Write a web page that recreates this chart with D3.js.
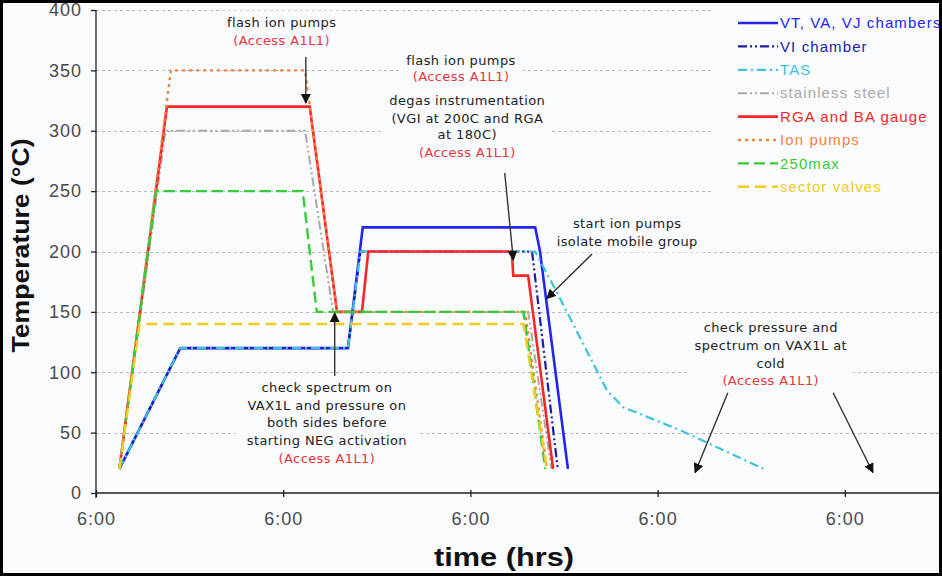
<!DOCTYPE html>
<html>
<head>
<meta charset="utf-8">
<script src="https://cdn.jsdelivr.net/npm/d3@7"></script>
<style>
  html, body { margin: 0; padding: 0; background: #ffffff; }
  svg { display: block; }
</style>
</head>
<body>
<svg id="chart" width="942" height="576"></svg>
<script>
// Bake-out temperature schedule: time in hours from the first 6:00, temperature in °C.
const seriesNames = ["VT, VA, VJ chambers", "VI chamber", "TAS", "stainless steel",
                     "RGA and BA gauge", "Ion pumps", "250max", "sector valves"];

const vtVaVj       = [[3,20],[10.8,120],[32.3,120],[34.2,220],[56.3,220],[56.9,201],[60.5,20]];
const viChamber    = [[3,20],[10.8,120],[32.3,120],[33.9,200],[55.9,200],[59.2,20]];
const tas          = [[3,20],[10.8,120],[32.3,120],[33.9,200],[56.3,200],[59.1,166],[63.3,113],
                      [65.5,85],[67.6,71],[74.9,52],[85.6,20]];
const stainless    = [[3,20],[8.9,300],[26.8,300],[30.4,150],[55.4,150],[58.4,20]];
const rgaBa        = [[3,20],[9.1,320],[27.4,320],[30.9,150],[34.1,150],[34.9,200],[53.3,200],
                      [53.5,180],[55.4,180],[58.6,20]];
const ionPumps     = [[3,20],[9.6,350],[26.8,350],[30.9,150],[55.0,150],[57.8,20]];
const max250       = [[3,20],[7.7,250],[26.5,250],[28.3,150],[54.8,150],[57.6,20]];
const sectorValves = [[3,20],[5.6,140],[54.8,140],[57.8,20]];

const seriesValues = [vtVaVj, viChamber, tas, stainless, rgaBa, ionPumps, max250, sectorValves];
const seriesColors = ["#2424f0", "#1c1ca6", "#3cc4d6", "#a9a9a9", "#f42828", "#f0843c", "#36cc36", "#f2cc1e"];
const seriesDash   = [null, "9,3,2,3,2,3", "9,4,2,4", "9,3,2,3,2,3", null, "3,4", "11,5", "11,6"];
const seriesWidth  = [2.6, 2.2, 2.2, 2.0, 2.6, 2.4, 2.4, 2.4];

const timeTicks  = [0, 24, 48, 72, 96];
const timeLabels = ["6:00", "6:00", "6:00", "6:00", "6:00"];
const tempTicks  = [0, 50, 100, 150, 200, 250, 300, 350, 400];

// Notes placed in data units (hours, °C); arrows run from "from" to "to".
const notes = [
  { x: 23.8, y: [390, 375], lines: ["flash ion pumps", "(Access A1L1)"], red: [1] },
  { x: 46.8, y: [358.6, 345.3], lines: ["flash ion pumps", "(Access A1L1)"], red: [1] },
  { x: 47.6, y: [325.5, 310.6, 296.6, 282.4],
    lines: ["degas instrumentation", "(VGI at 200C and RGA", "at 180C)", "(Access A1L1)"], red: [3] },
  { x: 68.1, y: [223.6, 208.7], lines: ["start ion pumps", "isolate mobile group"], red: [] },
  { x: 29.6, y: [87.8, 72.9, 58.8, 43.9, 29.0],
    lines: ["check spectrum on", "VAX1L and pressure on", "both sides before",
            "starting NEG activation", "(Access A1L1)"], red: [4], pad: 11 },
  { x: 86.5, y: [137.5, 122.6, 107.7, 93.6],
    lines: ["check pressure and", "spectrum on VAX1L at", "cold", "(Access A1L1)"], red: [3] }
];
const arrows = [
  { from: [26.9, 361], to: [26.9, 323] },
  { from: [52.4, 265], to: [53.5, 193] },
  { from: [63.6, 198], to: [57.8, 161] },
  { from: [30.6, 97],  to: [30.6, 149] },
  { from: [81.0, 83],  to: [76.8, 17] },
  { from: [94.5, 83],  to: [99.6, 17] }
];

const W = 942, H = 576;
const svg = d3.select("#chart");
const x = d3.scaleLinear().domain([0, 108.2]).range([96, 940]);
const y = d3.scaleLinear().domain([0, 400]).range([493, 10]);
const bg = "#f9fbfd";

svg.append("rect").attr("width", W).attr("height", H).attr("fill", bg);

// dotted horizontal grid
svg.append("g").selectAll("line").data(tempTicks.filter(d => d > 0)).join("line")
  .attr("x1", x(0)).attr("x2", W - 3)
  .attr("y1", d => Math.round(y(d)) + 0.5).attr("y2", d => Math.round(y(d)) + 0.5)
  .attr("stroke", "#b4b8bc").attr("stroke-width", 1).attr("stroke-dasharray", "3,3");

// legend panel
const legend = svg.append("g");
legend.append("rect").attr("x", 712).attr("y", 4).attr("width", 228).attr("height", 197).attr("fill", bg);
seriesNames.forEach((name, i) => {
  const ly = 23 + i * 23.4;
  legend.append("line").attr("x1", 738).attr("x2", 778).attr("y1", ly).attr("y2", ly)
    .attr("stroke", seriesColors[i]).attr("stroke-width", seriesWidth[i])
    .attr("stroke-dasharray", seriesDash[i]);
  legend.append("text").attr("x", 780).attr("y", ly).attr("dy", "0.35em")
    .attr("fill", seriesColors[i])
    .style("font-family", "'Liberation Sans', Arial, sans-serif")
    .style("font-size", "15px").style("letter-spacing", "1.1px")
    .text(name);
});

// note text blocks with panels hiding the grid behind them
const noteLayer = svg.append("g");
const noteText = svg.append("g");
notes.forEach(n => {
  const g = noteText.append("g");
  n.lines.forEach((t, i) => {
    g.append("text").attr("x", x(n.x)).attr("y", y(n.y[i])).attr("dy", "0.35em")
      .attr("text-anchor", "middle")
      .attr("fill", n.red.includes(i) ? "#e8343c" : "#222")
      .style("font-family", "'DejaVu Sans', Verdana, sans-serif")
      .style("font-size", "13px").style("letter-spacing", "0.4px")
      .text(t);
  });
  const b = g.node().getBBox();
  const p = n.pad || 6;
  noteLayer.append("rect").attr("x", b.x - p).attr("y", b.y - 4)
    .attr("width", b.width + 2 * p).attr("height", b.height + 8).attr("fill", bg);
});

// series, first one at the bottom
const line = d3.line().x(d => x(d[0])).y(d => y(d[1]));
const lines = svg.append("g");
seriesValues.forEach((v, i) => {
  lines.append("path").datum(v).attr("d", line)
    .attr("fill", "none").attr("stroke", seriesColors[i])
    .attr("stroke-width", seriesWidth[i]).attr("stroke-dasharray", seriesDash[i])
    .attr("stroke-linejoin", "miter");
});
noteText.raise();

// axes
const yAxis = svg.append("g").attr("transform", `translate(${x(0)},0)`)
  .call(d3.axisLeft(y).tickValues(tempTicks).tickSizeInner(5).tickSizeOuter(0).tickPadding(9));
const xAxis = svg.append("g").attr("transform", `translate(0,${y(0)})`)
  .call(d3.axisBottom(x).tickValues(timeTicks).tickFormat((d, i) => timeLabels[i])
        .tickSizeInner(4).tickSizeOuter(0).tickPadding(15));
[yAxis, xAxis].forEach(a => {
  a.select(".domain").attr("stroke", "#222").attr("stroke-width", 1.3);
  a.selectAll(".tick line").attr("stroke", "#222").attr("stroke-width", 1.3);
  a.selectAll(".tick text").attr("fill", "#4a4a4a")
    .style("font-family", "'Liberation Sans', Arial, sans-serif")
    .style("font-size", "18px").style("letter-spacing", "1px");
});
xAxis.selectAll(".tick line").attr("y1", -3);
yAxis.select(".domain").attr("d", `M0,${y(400)}V${y(0) + 5}`);
xAxis.select(".domain").attr("d", `M${x(0)},0H${W - 3}`);

// axis titles
svg.append("text").attr("transform", `translate(29,${y(205)}) rotate(-90)`)
  .attr("text-anchor", "middle")
  .attr("textLength", 214).attr("lengthAdjust", "spacingAndGlyphs")
  .style("font-family", "'Liberation Sans', Arial, sans-serif")
  .style("font-size", "23px").style("font-weight", "bold").attr("fill", "#111")
  .text("Temperature (°C)");
svg.append("text").attr("x", 504).attr("y", 566).attr("text-anchor", "middle")
  .attr("textLength", 140).attr("lengthAdjust", "spacingAndGlyphs")
  .style("font-family", "'Liberation Sans', Arial, sans-serif")
  .style("font-size", "25px").style("font-weight", "bold").attr("fill", "#111")
  .text("time (hrs)");

// arrows
svg.append("defs").append("marker").attr("id", "head")
  .attr("viewBox", "0 0 10 10").attr("refX", 9).attr("refY", 5)
  .attr("markerWidth", 10).attr("markerHeight", 10).attr("markerUnits", "userSpaceOnUse")
  .attr("orient", "auto")
  .append("path").attr("d", "M0,0L10,5L0,10Z").attr("fill", "#111");
svg.append("g").selectAll("line").data(arrows).join("line")
  .attr("x1", d => x(d.from[0])).attr("y1", d => y(d.from[1]))
  .attr("x2", d => x(d.to[0])).attr("y2", d => y(d.to[1]))
  .attr("stroke", "#333").attr("stroke-width", 1.4).attr("marker-end", "url(#head)");

// outer frame
svg.append("rect").attr("x", 1.5).attr("y", 1.5).attr("width", W - 3).attr("height", H - 3)
  .attr("fill", "none").attr("stroke", "#000").attr("stroke-width", 3);
</script>
</body>
</html>
